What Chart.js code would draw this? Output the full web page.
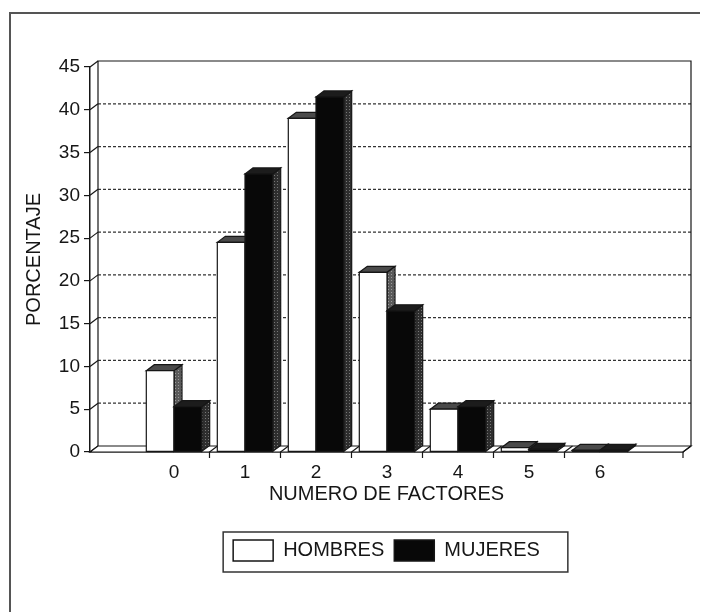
<!DOCTYPE html>
<html>
<head>
<meta charset="utf-8">
<script src="https://cdn.jsdelivr.net/npm/chart.js@4.4.1/dist/chart.umd.min.js"></script>
<style>
  html, body { margin: 0; padding: 0; background: #fff; }
  #wrap { width: 705px; height: 612px; }
</style>
</head>
<body>
<div id="wrap"><canvas id="chart" width="705" height="612"></canvas></div>
<script>
const CATEGORIES = ['0', '1', '2', '3', '4', '5', '6'];
const HOMBRES = [9.5, 24.5, 39, 21, 5, 0.5, 0.2];
const MUJERES = [5.3, 32.5, 41.5, 16.5, 5.3, 0.3, 0.2];

const FONT = "'Liberation Sans', Arial, sans-serif";
const INK = '#161616';
const DX = 8;   // depth of the 3d effect
const DY = 6;

function dotPattern(ctx, base, dot) {
  const c = document.createElement('canvas');
  c.width = 3;
  c.height = 3;
  const g = c.getContext('2d');
  g.fillStyle = base;
  g.fillRect(0, 0, 3, 3);
  g.fillStyle = dot;
  g.fillRect(1, 1, 1, 1);
  return ctx.createPattern(c, 'repeat');
}

function poly(ctx, pts, fill, stroke) {
  ctx.beginPath();
  ctx.moveTo(pts[0][0], pts[0][1]);
  for (let i = 1; i < pts.length; i++) ctx.lineTo(pts[i][0], pts[i][1]);
  ctx.closePath();
  if (fill) { ctx.fillStyle = fill; ctx.fill(); }
  if (stroke) { ctx.strokeStyle = stroke; ctx.stroke(); }
}

const threeD = {
  id: 'threeD',
  beforeDraw(chart) {
    const { ctx } = chart;
    ctx.save();
    ctx.fillStyle = '#fff';
    ctx.fillRect(0, 0, chart.width, chart.height);
    // outer frame (left and top edges are all that show)
    ctx.strokeStyle = '#555';
    ctx.lineWidth = 2;
    ctx.beginPath();
    ctx.moveTo(10, chart.height);
    ctx.lineTo(10, 13);
    ctx.lineTo(700, 13);
    ctx.stroke();
    ctx.restore();
  },
  beforeDatasetsDraw(chart) {
    const { ctx, chartArea: a, scales: { x, y } } = chart;
    const L = a.left + DX, R = a.right + DX, T = a.top - DY, B = a.bottom - DY;
    ctx.save();
    ctx.lineWidth = 1.2;

    // back wall gridlines + diagonals from the front axis
    y.ticks.forEach((t) => {
      const py = y.getPixelForValue(t.value);
      ctx.strokeStyle = INK;
      ctx.setLineDash([]);
      ctx.beginPath();
      ctx.moveTo(a.left, py);
      ctx.lineTo(L, py - DY);
      ctx.stroke();
      if (t.value > y.min && t.value < y.max) {
        ctx.strokeStyle = '#333';
        ctx.setLineDash([3, 2]);
        ctx.beginPath();
        ctx.moveTo(L, py - DY);
        ctx.lineTo(R, py - DY);
        ctx.stroke();
      }
    });
    ctx.setLineDash([]);
    ctx.strokeStyle = INK;
    ctx.beginPath();
    ctx.moveTo(L, B);
    ctx.lineTo(L, T);
    ctx.lineTo(R, T);
    ctx.lineTo(R, B);
    ctx.stroke();

    // floor
    poly(ctx, [[a.left, a.bottom], [a.right, a.bottom], [R, B], [L, B]], '#fff', INK);

    // x tick marks between groups
    const marks = CATEGORIES.slice(0, -1).map((_, i) => x.getPixelForValue(i + 0.5));
    marks.push(a.right);
    marks.forEach((px) => {
      ctx.beginPath();
      ctx.moveTo(px, a.bottom + 6);
      ctx.lineTo(px, a.bottom);
      ctx.lineTo(px + DX, B);
      ctx.stroke();
    });

    // bars, drawn group by group so the front faces hide the sides behind them
    const metas = [chart.getDatasetMeta(0), chart.getDatasetMeta(1)];
    const sideW = dotPattern(ctx, '#5a5a5a', '#9a9a9a');
    const sideB = dotPattern(ctx, '#2e2e2e', '#777');
    for (let i = 0; i < CATEGORIES.length; i++) {
      metas.forEach((m, d) => {
        const bar = m.data[i];
        const { x: cx, y: top, base, width } = bar.getProps(['x', 'y', 'base', 'width'], true);
        const l = cx - width / 2, r = cx + width / 2;
        poly(ctx, [[r, top], [r + DX, top - DY], [r + DX, base - DY], [r, base]], d ? sideB : sideW, INK);
        poly(ctx, [[l, top], [l + DX, top - DY], [r + DX, top - DY], [r, top]], d ? '#1c1c1c' : '#4a4a4a', INK);
        poly(ctx, [[l, top], [r, top], [r, base], [l, base]], d ? '#080808' : '#fff', INK);
      });
    }
    ctx.restore();
    return false;
  },
  afterDraw(chart) {
    const lg = chart.legend;
    if (!lg || !lg.legendHitBoxes.length) return;
    const hb = lg.legendHitBoxes;
    const first = hb[0], last = hb[hb.length - 1];
    const { ctx } = chart;
    ctx.save();
    ctx.strokeStyle = '#333';
    ctx.lineWidth = 1.5;
    ctx.strokeRect(first.left - 10, lg.top + 2, last.left + last.width + 28 - (first.left - 10), lg.bottom - lg.top - 1);
    ctx.restore();
  },
};

new Chart(document.getElementById('chart'), {
  type: 'bar',
  data: {
    datasets: [
      {
        label: 'HOMBRES',
        data: HOMBRES.map((v, i) => ({ x: i, y: v })),
        backgroundColor: '#fff',
        borderColor: INK,
        borderWidth: 1.5,
      },
      {
        label: 'MUJERES',
        data: MUJERES.map((v, i) => ({ x: i, y: v })),
        backgroundColor: '#080808',
        borderColor: INK,
        borderWidth: 1.5,
      },
    ],
  },
  options: {
    responsive: false,
    animation: false,
    layout: { padding: { left: 10, right: 22, top: 67, bottom: 41 } },
    datasets: { bar: { categoryPercentage: 0.78, barPercentage: 1 } },
    plugins: {
      tooltip: { enabled: false },
      legend: {
        position: 'bottom',
        fullSize: false,
        labels: {
          boxWidth: 40,
          boxHeight: 21,
          padding: 10,
          color: INK,
          font: { family: FONT, size: 20 },
        },
      },
    },
    scales: {
      x: {
        type: 'linear',
        offset: false,
        min: -1.183,
        max: 7.169,
        afterBuildTicks: (s) => { s.ticks = CATEGORIES.map((_, i) => ({ value: i })); },
        afterFit: (s) => { s.height = 78; },
        grid: { display: true, offset: false, drawOnChartArea: false, drawTicks: false },
        border: { display: true, color: INK, width: 1.5 },
        ticks: {
          autoSkip: false,
          maxRotation: 0,
          padding: 9,
          color: INK,
          font: { family: FONT, size: 19 },
          callback: (v) => CATEGORIES[v],
        },
        title: {
          display: true,
          text: 'NUMERO DE FACTORES',
          color: INK,
          font: { family: FONT, size: 20 },
          padding: { top: 4, bottom: 24 },
        },
      },
      y: {
        min: 0,
        max: 45,
        afterFit: (s) => { s.width = 80; },
        grid: { display: true, drawOnChartArea: false, drawTicks: true, tickLength: 6, color: INK, lineWidth: 1.2 },
        border: { display: true, color: INK, width: 1.5 },
        ticks: {
          stepSize: 5,
          padding: 4,
          color: INK,
          font: { family: FONT, size: 19 },
        },
        title: {
          display: true,
          text: 'PORCENTAJE',
          color: INK,
          font: { family: FONT, size: 20 },
          padding: { top: 12, bottom: 0 },
        },
      },
    },
  },
  plugins: [threeD],
});
</script>
</body>
</html>
